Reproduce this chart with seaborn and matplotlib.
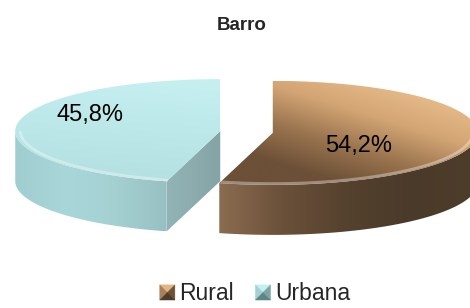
import numpy as np
import matplotlib
matplotlib.use("Agg")
import matplotlib.pyplot as plt
import seaborn as sns
from matplotlib.patches import Polygon, Patch
from matplotlib.colors import LinearSegmentedColormap
from matplotlib.legend_handler import HandlerBase

# ---------------- data ----------------
categories = ["Rural", "Urbana"]
values = [54.2, 45.8]
value_labels = ["54,2%", "45,8%"]
chart_title = "Barro"

# ---------------- style ----------------
sns.set_theme(style="white")
plt.rcParams['font.family'] = ['Liberation Sans', 'DejaVu Sans']

W, H = 470, 308
fig = plt.figure(figsize=(4.7, 3.08), dpi=100)
ax = fig.add_axes([0, 0, 1, 1])
sns.despine(ax=ax, left=True, bottom=True)

# layout of the 3D pie (pixel units)
CX, CY = 246.5, 132.0
R, RY = 205.0, 52.0
DEPTH = 50.0
EXPLODE = 26.5
label_r = [0.42, 0.64]
label_dy = [10, -12]

# colour maps per slice: top face, outer side, cut face
styles = {
    "Rural": dict(
        top=LinearSegmentedColormap.from_list("rt", ["#6c5037", "#9a744f", "#d3a574", "#e8bb8a"]),
        side=LinearSegmentedColormap.from_list("rs", ["#8a6c50", "#6a5039", "#54412e", "#4a3a29", "#4e3d2b"]),
        cut=LinearSegmentedColormap.from_list("rc", ["#5a4530", "#6a5038"]),
        shades=["#e2b582", "#a98159", "#6e5238", "#4e3c2a"],
    ),
    "Urbana": dict(
        top=LinearSegmentedColormap.from_list("ut", ["#b4e0e2", "#bce8ea", "#c6eff0"]),
        side=LinearSegmentedColormap.from_list("us", ["#9fcdd0", "#a9d7d9", "#a4d0d2", "#98c0c2"]),
        cut=LinearSegmentedColormap.from_list("uc", ["#93b4b6", "#84a3a5"]),
        shades=["#c4f0f2", "#a2d2d4", "#7fa4a6", "#5f8486"],
    ),
}


def proj(cx, cy, th, rr=1.0, dz=0.0):
    t = np.radians(th)
    return np.column_stack([cx + R * rr * np.cos(t), cy - RY * rr * np.sin(t) + dz])


def grad_fill(xy, func, cmap, z):
    patch = Polygon(xy, closed=True, facecolor='none', edgecolor='none', zorder=z)
    ax.add_patch(patch)
    x0, y0 = xy.min(0)
    x1, y1 = xy.max(0)
    X, Y = np.meshgrid(np.linspace(x0, x1, 300), np.linspace(y0, y1, 300))
    Z = np.clip(func(X, Y), 0, 1)
    im = ax.imshow(Z, extent=(x0, x1, y1, y0), origin='upper', cmap=cmap,
                   vmin=0, vmax=1, interpolation='bilinear', zorder=z, aspect='auto')
    im.set_clip_path(patch)


fracs = np.array(values) / np.sum(values)
cum = 360 * np.concatenate([[0], np.cumsum(fracs)])
starts = 90 - cum[:-1]
ends = 90 - cum[1:]

for i, cat in enumerate(categories):
    st = styles[cat]
    a0, a1 = starts[i], ends[i]          # a0 > a1 (clockwise)
    mid = (a0 + a1) / 2
    cx = CX + EXPLODE * np.cos(np.radians(mid))
    cy = CY - EXPLODE * RY / R * np.sin(np.radians(mid))
    zb = 2 + i * 10

    # outer side (front half only)
    for k in range(-2, 2):
        lo, hi = -180 + 360 * k, 0 + 360 * k
        s_lo, s_hi = max(lo, a1), min(hi, a0)
        if s_hi > s_lo:
            th = np.linspace(s_lo, s_hi, 200)
            topc = proj(cx, cy, th)
            botc = proj(cx, cy, th, dz=DEPTH)
            xy = np.vstack([topc, botc[::-1]])
            xmin, xmax = xy[:, 0].min(), xy[:, 0].max()
            grad_fill(xy, lambda X, Y, a=xmin, b=xmax: (X - a) / (b - a), st['side'], zb)

    # cut faces
    for ang, normal in ((a0, a0 + 90), (a1, a1 - 90)):
        if np.sin(np.radians(normal)) < -1e-6:
            p_c = proj(cx, cy, np.array([ang]), rr=0.0)[0]
            p_o = proj(cx, cy, np.array([ang]))[0]
            xy = np.array([p_c, p_o, p_o + [0, DEPTH], p_c + [0, DEPTH]])
            xmin, xmax = xy[:, 0].min(), xy[:, 0].max()
            grad_fill(xy, lambda X, Y, a=xmin, b=xmax: (X - a) / (b - a), st['cut'], zb + 1)

    # top face
    th = np.linspace(a0, a1, 300)
    xy = np.vstack([[cx, cy], proj(cx, cy, th)])
    if cat == "Rural":
        f = lambda X, Y, cx=cx, cy=cy: 0.25 + 0.55 * (X - cx) / R + 0.45 * (cy - Y) / RY
    else:
        f = lambda X, Y, cx=cx, cy=cy: 0.55 + 0.5 * (cy - Y) / RY + 0.15 * (X - cx) / R
    grad_fill(xy, f, st['top'], zb + 2)

    # bevel hint along the front rim of the top face
    for k in range(-2, 2):
        lo, hi = -180 + 360 * k, 0 + 360 * k
        s_lo, s_hi = max(lo, a1), min(hi, a0)
        if s_hi > s_lo:
            thr = np.linspace(s_lo, s_hi, 200)
            rim = proj(cx, cy, thr, rr=0.975)
            ax.plot(rim[:, 0], rim[:, 1], color='white', alpha=0.35, lw=2, zorder=zb + 3,
                    solid_capstyle='butt')

    # value label
    lx = cx + label_r[i] * R * np.cos(np.radians(mid))
    ly = cy - label_r[i] * RY * np.sin(np.radians(mid)) + label_dy[i]
    ax.text(lx, ly, value_labels[i], fontsize=17, ha='center', va='center',
            color='black', zorder=50)

ax.set_xlim(0, W)
ax.set_ylim(H, 0)
ax.axis('off')

fig.text(242 / W, 1 - 26 / H, chart_title, fontsize=13.5, fontweight='bold',
         ha='center', va='center')


class PyramidHandler(HandlerBase):
    def create_artists(self, legend, orig_handle, xdescent, ydescent, width, height,
                       fontsize, trans):
        s = height
        x0 = -xdescent + (width - s) / 2
        y0 = -ydescent
        c = (x0 + s / 2, y0 + s / 2)
        top, left, right, bottom = orig_handle.shades
        tris = [
            ([(x0, y0 + s), (x0 + s, y0 + s), c], top),
            ([(x0, y0), (x0, y0 + s), c], left),
            ([(x0 + s, y0), (x0 + s, y0 + s), c], right),
            ([(x0, y0), (x0 + s, y0), c], bottom),
        ]
        arts = []
        for pts, col in tris:
            p = Polygon(pts, closed=True, facecolor=col, edgecolor=col, lw=0.3, transform=trans)
            arts.append(p)
        return arts


handles = []
for cat in categories:
    h = Patch(label=cat)
    h.shades = styles[cat]['shades']
    handles.append(h)

fig.legend(handles=handles, loc='center', bbox_to_anchor=(255 / W, 1 - 294 / H), ncol=2,
           frameon=False, fontsize=16.5, handlelength=0.64, handleheight=0.64,
           handletextpad=0.2, columnspacing=0.95, borderpad=0,
           handler_map={Patch: PyramidHandler()})

fig.savefig("out.png", dpi=100)
